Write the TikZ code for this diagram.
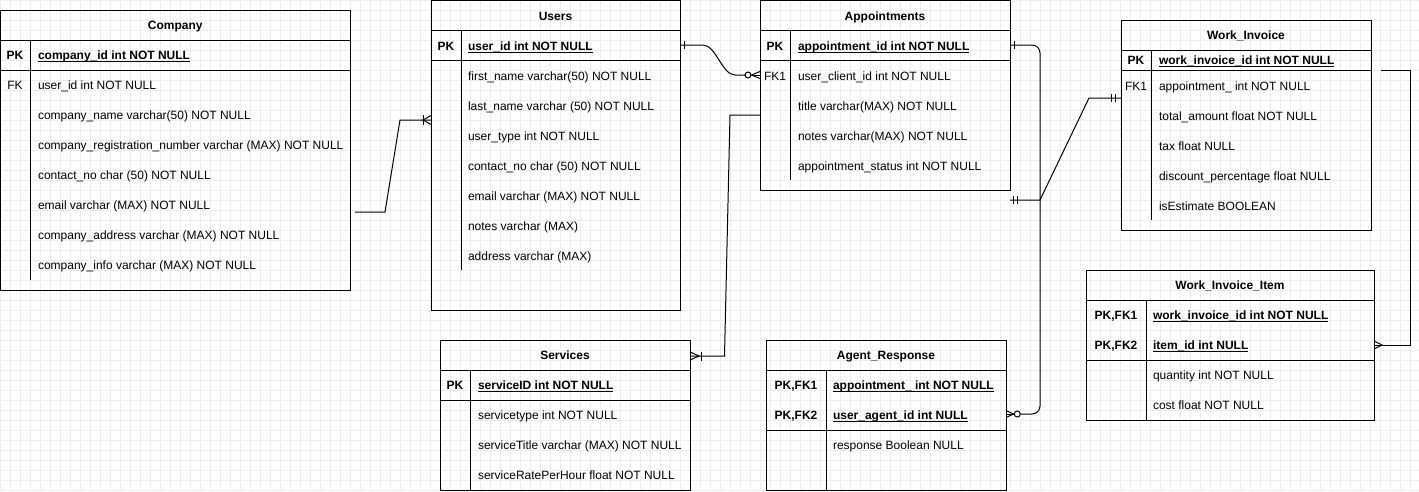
\documentclass[tikz,border=0pt]{standalone}
\usepackage{fontspec}
\setmainfont{Liberation Sans}
% underlined key field: a thin rule just under the baseline
\newcommand{\ulfield}[1]{\setbox0=\hbox{#1}\rlap{\rule[-2.2pt]{\wd0}{0.9pt}}\box0}
\begin{document}
\begin{tikzpicture}[x=1pt,y=-1pt,
  every node/.style={font=\fontsize{12}{14}\selectfont, inner sep=0pt, outer sep=0pt},
  tbl/.style={draw=black, line width=1pt, rectangle, anchor=north west},
  tline/.style={draw=black, line width=1pt},
  ttl/.style={font=\fontsize{12}{14}\selectfont\bfseries, text height=8.6pt, text depth=0pt},
  keylbl/.style={text height=8.6pt, text depth=0pt},
  pkkey/.style={keylbl, font=\fontsize{12}{14}\selectfont\bfseries},
  field/.style={anchor=west, text height=8.6pt, text depth=0pt},
  pkfield/.style={field, font=\fontsize{12}{14}\selectfont\bfseries},
  conn/.style={draw=black, line width=1pt},
  gridline/.style={draw=black!7, line width=0.9pt}
]
\useasboundingbox (0,0) rectangle (1419,491);

% background grid
\foreach \gx in {0,10,...,1410} \draw[gridline] (\gx,0) -- (\gx,491);
\foreach \gy in {0,10,...,490} \draw[gridline] (0,\gy) -- (1419,\gy);

% ---------------- Company ----------------
\node[tbl, minimum width=349.5pt, minimum height=280pt] (company) at (0.5,10) {};
\draw[tline] (0.5,40) -- (350,40);
\draw[tline] (0.5,70) -- (350,70);
\draw[tline] (30,40) -- (30,280);
\node[ttl] (company-t) at (175.25,25.5) {Company};
\node[pkkey] (company-pkk) at (15,55.5) {PK};
\node[pkfield] (company-pk) at (38,55.5) {\ulfield{company\_id int NOT NULL}};
\node[keylbl] (company-fkk) at (15,85.5) {FK};
\foreach \t [count=\i] in {{user\_id int NOT NULL},{company\_name varchar(50) NOT NULL},
  {company\_registration\_number varchar (MAX) NOT NULL},{contact\_no char (50) NOT NULL},
  {email varchar (MAX) NOT NULL},{company\_address varchar (MAX) NOT NULL},
  {company\_info varchar (MAX) NOT NULL}}
  \node[field] (company-r\i) at (38,{85.5+30*(\i-1)}) {\t};

% ---------------- Users ----------------
\node[tbl, minimum width=249pt, minimum height=309.5pt] (users) at (431,0.5) {};
\draw[tline] (431,30.5) -- (680,30.5);
\draw[tline] (431,60.5) -- (680,60.5);
\draw[tline] (461,30.5) -- (461,270);
\node[ttl] (users-t) at (555.5,16) {Users};
\node[pkkey] (users-pkk) at (446,46) {PK};
\node[pkfield] (users-pk) at (468,46) {\ulfield{user\_id int NOT NULL}};
\foreach \t [count=\i] in {{first\_name varchar(50) NOT NULL},{last\_name varchar (50) NOT NULL},
  {user\_type int NOT NULL},{contact\_no char (50) NOT NULL},{email varchar (MAX) NOT NULL},
  {notes varchar (MAX)},{address varchar (MAX)}}
  \node[field] (users-r\i) at (468,{76+30*(\i-1)}) {\t};

% ---------------- Appointments ----------------
\node[tbl, minimum width=250pt, minimum height=189.5pt] (appt) at (760,0.5) {};
\draw[tline] (760,30.5) -- (1010,30.5);
\draw[tline] (760,60.5) -- (1010,60.5);
\draw[tline] (790,30.5) -- (790,180);
\node[ttl] (appt-t) at (885,16) {Appointments};
\node[pkkey] (appt-pkk) at (775,46) {PK};
\node[pkfield] (appt-pk) at (798,46) {\ulfield{appointment\_id int NOT NULL}};
\node[keylbl] (appt-fkk) at (775,76) {FK1};
\foreach \t [count=\i] in {{user\_client\_id int NOT NULL},{title varchar(MAX) NOT NULL},
  {notes varchar(MAX) NOT NULL},{appointment\_status int NOT NULL}}
  \node[field] (appt-r\i) at (798,{76+30*(\i-1)}) {\t};

% ---------------- Work_Invoice ----------------
\node[tbl, minimum width=250pt, minimum height=210pt] (invoice) at (1121,20) {};
\draw[tline] (1121,50) -- (1371,50);
\draw[tline] (1121,70) -- (1371,70);
\draw[tline] (1151,50) -- (1151,220);
\node[ttl] (invoice-t) at (1246,35.5) {Work\_Invoice};
\node[pkkey] (invoice-pkk) at (1136,60.5) {PK};
\node[pkfield] (invoice-pk) at (1159,60.5) {\ulfield{work\_invoice\_id int NOT NULL}};
\node[keylbl] (invoice-fkk) at (1136,86) {FK1};
\foreach \t [count=\i] in {{appointment\_ int NOT NULL},{total\_amount float NOT NULL},
  {tax float NULL},{discount\_percentage float NULL},{isEstimate BOOLEAN}}
  \node[field] (invoice-r\i) at (1159,{86+30*(\i-1)}) {\t};

% ---------------- Work_Invoice_Item ----------------
\node[tbl, minimum width=288pt, minimum height=150pt] (item) at (1086,270) {};
\draw[tline] (1086,300) -- (1374,300);
\draw[tline] (1086,360) -- (1374,360);
\draw[tline] (1146,300) -- (1146,420);
\node[ttl] (item-t) at (1230,285.5) {Work\_Invoice\_Item};
\node[pkkey] (item-pkk1) at (1116,315) {PK,FK1};
\node[pkfield] (item-pk1) at (1153,315) {\ulfield{work\_invoice\_id int NOT NULL}};
\node[pkkey] (item-pkk2) at (1116,345) {PK,FK2};
\node[pkfield] (item-pk2) at (1153,345) {\ulfield{item\_id int NULL}};
\node[field] (item-r1) at (1153,375) {quantity int NOT NULL};
\node[field] (item-r2) at (1153,405) {cost float NOT NULL};

% ---------------- Services ----------------
\node[tbl, minimum width=250pt, minimum height=150pt] (services) at (440,340) {};
\draw[tline] (440,370) -- (690,370);
\draw[tline] (440,400) -- (690,400);
\draw[tline] (470,370) -- (470,490);
\node[ttl] (services-t) at (565,355.5) {Services};
\node[pkkey] (services-pkk) at (455,385.5) {PK};
\node[pkfield] (services-pk) at (478,385.5) {\ulfield{serviceID int NOT NULL}};
\foreach \t [count=\i] in {{servicetype int NOT NULL},{serviceTitle varchar (MAX) NOT NULL},
  {serviceRatePerHour float NOT NULL}}
  \node[field] (services-r\i) at (478,{415.5+30*(\i-1)}) {\t};

% ---------------- Agent_Response ----------------
\node[tbl, minimum width=240pt, minimum height=150pt] (agent) at (766,340) {};
\draw[tline] (766,370) -- (1006,370);
\draw[tline] (766,430) -- (1006,430);
\draw[tline] (826,370) -- (826,490);
\node[ttl] (agent-t) at (886,355.5) {Agent\_Response};
\node[pkkey] (agent-pkk1) at (796,385.5) {PK,FK1};
\node[pkfield] (agent-pk1) at (833,385.5) {\ulfield{appointment\_ int NOT NULL}};
\node[pkkey] (agent-pkk2) at (796,415.5) {PK,FK2};
\node[pkfield] (agent-pk2) at (833,415.5) {\ulfield{user\_agent\_id int NULL}};
\node[field] (agent-r1) at (833,445.5) {response Boolean NULL};

% ---------------- relationships ----------------
% Company -- Users : one or many
\coordinate (coFree) at (355,212);
\draw[conn] (coFree) -- (385,212) -- (400,120) -- (users.west |- 0,120);
\draw[conn] (users.west |- 0,115.5) -- (423,120) -- (users.west |- 0,124.5);
\draw[conn] (423,115) -- (423,125);

% Users -- Appointments : one to zero or many
\draw[conn] (users.east |- 0,45) -- (703,45) .. controls (716,45) and (722,75) .. (735,75) -- (745,75);
\draw[conn] (684,41) -- (684,49);
\draw[conn] (748,75) circle[radius=3];
\draw[conn] (appt.west |- 0,71.5) -- (751.5,75) -- (appt.west |- 0,78.5);
\draw[conn] (751.5,75) -- (appt.west |- 0,75);

% Appointments -- Services : one or many
\draw[conn] (appt.west |- 0,115) -- (730,115) -- (724.5,356) -- (services.east |- 0,356);
\draw[conn] (services.east |- 0,352) -- (699,356) -- (services.east |- 0,360);
\draw[conn] (701,351.5) -- (701,360.5);

% Appointments -- Agent_Response : one to zero or many
\draw[conn, rounded corners=8pt] (appt.east |- 0,45) -- (1040,45) -- (1040,414) -- (1020.3,414);
\draw[conn] (1014.5,41) -- (1014.5,49);
\draw[conn] (1017.3,414) circle[radius=3];
\draw[conn] (agent.east |- 0,410.5) -- (1013.5,414) -- (agent.east |- 0,417.5);
\draw[conn] (1013.5,414) -- (agent.east |- 0,414);

% Appointments -- Work_Invoice : exactly one on both sides
\draw[conn] (appt.east |- 0,200) -- (1040,200) -- (1089,98) -- (invoice.west |- 0,98);
\draw[conn] (1013,196) -- (1013,204);
\draw[conn] (1017,196) -- (1017,204);
\draw[conn] (1111,94) -- (1111,102);
\draw[conn] (1115,94) -- (1115,102);

% Work_Invoice -- Work_Invoice_Item : many
\coordinate (invFree) at (1381,70);
\draw[conn] (invFree) -- (1410,70) -- (1410,345) -- (1382,345);
\draw[conn] (item.east |- 0,341) -- (1382,345) -- (item.east |- 0,349);
\draw[conn] (item.east |- 0,345) -- (1382,345);
\end{tikzpicture}
\end{document}
